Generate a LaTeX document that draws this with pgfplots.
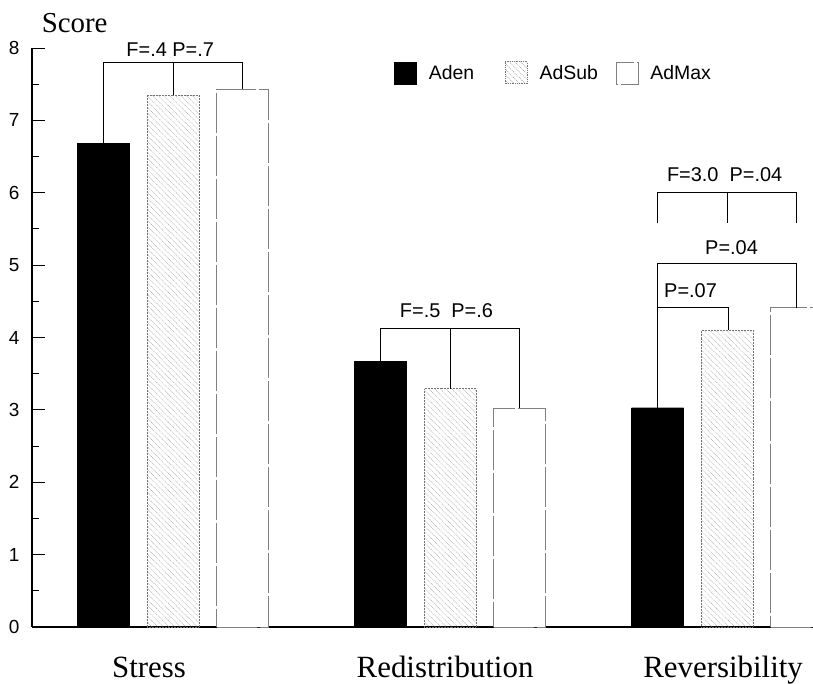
\documentclass[border=0pt]{standalone}
\usepackage{pgfplots}
\pgfplotsset{compat=1.18}
\usepackage{fontspec}
\setmainfont{Liberation Serif}
\newfontfamily\hv{Liberation Sans}
\usetikzlibrary{patterns.meta}
\begin{document}
\begin{tikzpicture}
\begin{axis}[
  scale only axis, width=781bp, height=579bp,
  at={(0,0)}, anchor=south west,
  xmin=-0.509, xmax=2.31, ymin=0, ymax=8,
  axis x line=bottom, axis y line=left,
  x axis line style={-, line width=1.6bp},
  y axis line style={-, line width=1.2bp},
  bar width=52bp,
  xtick={0,1,2}, xticklabels={\hspace*{-48bp}Stress, \hspace*{-10bp}Redistribution, \hspace*{-8bp}Reversibility},
  x tick label style={font=\fontsize{31}{31}\selectfont, anchor=base, yshift=-50bp},
  major x tick style={draw=none},
  ytick={0,1,...,8}, minor y tick num=1,
  tick align=inside, major tick length=13bp, minor tick length=7bp,
  y tick style={line width=1bp, black},
  y tick label style={font=\hv\fontsize{19}{19}\selectfont, xshift=-9bp},
  /pgf/number format/assume math mode=true,
  ylabel={Score},
  ylabel style={rotate=-90, at={(axis description cs:0.008,1.026)}, anchor=base west, font=\fontsize{29}{29}\selectfont},
  clip mode=individual,
  legend columns=3,
  legend style={draw=none, fill=none, at={(axis description cs:0.46,0.957)}, anchor=west,
    font=\hv\fontsize{19.5}{19.5}\selectfont,
    /tikz/every even column/.append style={column sep=14bp}},
  legend image code/.code={\draw[#1] (0bp,-11bp) rectangle (22bp,11bp); \path (32bp,0bp);},
]
\addplot[ybar, fill=black, draw=black, bar shift=-69.5bp] coordinates {(0,6.68) (1,3.67) (2,3.03)};
\addlegendentry{\makebox[60bp][l]{Aden}}
\addplot[ybar, pattern={Lines[angle=-45, distance=4bp, line width=0.5bp]}, pattern color=gray!85, draw=gray!90!black, densely dotted, line width=0.8bp, bar shift=0bp] coordinates {(0,7.35) (1,3.29) (2,4.10)};
\addlegendentry{\makebox[60bp][l]{AdSub}}
\addplot[ybar, fill=white, draw=gray, line width=0.7bp, dash pattern=on 40bp off 3bp, bar shift=69.5bp] coordinates {(0,7.43) (1,3.02) (2,4.41)};
\addlegendentry{\makebox[60bp][l]{AdMax}}

% brackets
\addplot[forget plot, black, line width=1bp] coordinates {(-0.251,6.68) (-0.251,7.80) (0.251,7.80) (0.251,7.43)};
\addplot[forget plot, black, line width=1bp] coordinates {(0,7.80) (0,7.35)};
\addplot[forget plot, black, line width=1bp] coordinates {(0.749,3.67) (0.749,4.13) (1.251,4.13) (1.251,3.02)};
\addplot[forget plot, black, line width=1bp] coordinates {(1,4.13) (1,3.29)};
\addplot[forget plot, black, line width=1bp] coordinates {(1.749,5.58) (1.749,6.01) (2.251,6.01) (2.251,5.58)};
\addplot[forget plot, black, line width=1bp] coordinates {(2,6.01) (2,5.58)};
\addplot[forget plot, black, line width=1bp] coordinates {(1.749,3.03) (1.749,5.02) (2.251,5.02) (2.251,4.41)};
\addplot[forget plot, black, line width=1bp] coordinates {(1.749,4.42) (2.005,4.42) (2.005,4.10)};

\node[font=\hv\fontsize{20}{20}\selectfont, anchor=base] at (axis cs:-0.01,7.88) {F=.4 P=.7};
\node[font=\hv\fontsize{20}{20}\selectfont, anchor=base] at (axis cs:0.987,4.28) {F=.5\ \ P=.6};
\node[font=\hv\fontsize{20}{20}\selectfont, anchor=base] at (axis cs:1.991,6.16) {F=3.0\ \ P=.04};
\node[font=\hv\fontsize{20}{20}\selectfont, anchor=base] at (axis cs:2.016,5.14) {P=.04};
\node[font=\hv\fontsize{20}{20}\selectfont, anchor=base] at (axis cs:1.868,4.55) {P=.07};
\end{axis}
\pgfresetboundingbox
\path (-32bp,-57bp) rectangle (781bp,627bp);
\end{tikzpicture}
\end{document}
